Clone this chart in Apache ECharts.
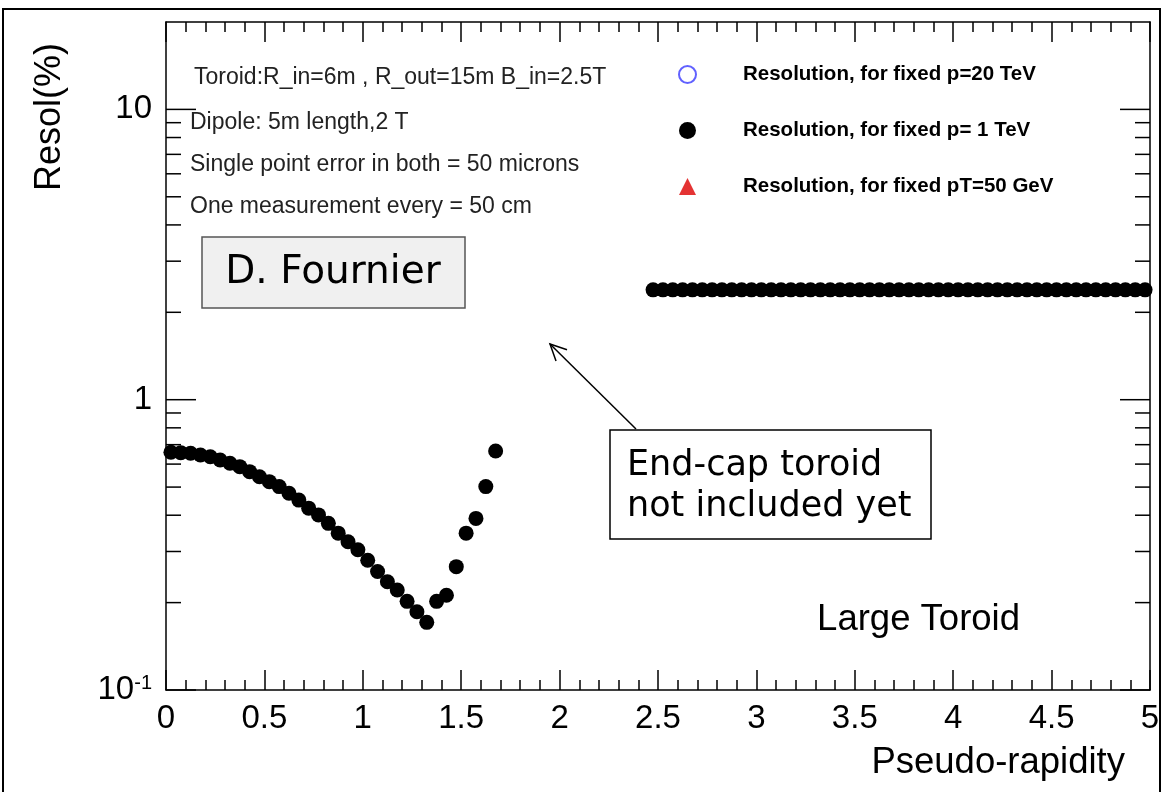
<!DOCTYPE html>
<html>
<head>
<meta charset="utf-8">
<script src="https://cdn.jsdelivr.net/npm/echarts@6.0.0/dist/echarts.min.js"></script>
<style>
  html, body { margin: 0; padding: 0; background: #fff; }
  #chart { width: 1163px; height: 792px; }
</style>
</head>
<body>
<div id="chart"></div>
<script>
// Pseudo-rapidity bins, barrel region (toroid + dipole)
const etaLow = [
  0.025, 0.075, 0.125, 0.175, 0.225, 0.275, 0.325, 0.375, 0.425, 0.475,
  0.525, 0.575, 0.625, 0.675, 0.725, 0.775, 0.825, 0.875, 0.925, 0.975,
  1.025, 1.075, 1.125, 1.175, 1.225, 1.275, 1.325, 1.375, 1.425, 1.475,
  1.525, 1.575, 1.625, 1.675
];
// Momentum resolution (%) at p = 1 TeV in the barrel region
const resolLow = [
  0.659, 0.657, 0.654, 0.645, 0.636, 0.620, 0.604, 0.588, 0.565, 0.543,
  0.522, 0.502, 0.476, 0.451, 0.423, 0.401, 0.375, 0.347, 0.324, 0.304,
  0.280, 0.256, 0.236, 0.221, 0.202, 0.186, 0.171, 0.202, 0.212, 0.266,
  0.347, 0.390, 0.502, 0.666
];
// Pseudo-rapidity bins, forward region
const etaHigh = [
  2.475, 2.525, 2.575, 2.625, 2.675, 2.725, 2.775, 2.825, 2.875, 2.925,
  2.975, 3.025, 3.075, 3.125, 3.175, 3.225, 3.275, 3.325, 3.375, 3.425,
  3.475, 3.525, 3.575, 3.625, 3.675, 3.725, 3.775, 3.825, 3.875, 3.925,
  3.975, 4.025, 4.075, 4.125, 4.175, 4.225, 4.275, 4.325, 4.375, 4.425,
  4.475, 4.525, 4.575, 4.625, 4.675, 4.725, 4.775, 4.825, 4.875, 4.925,
  4.975
];
// Momentum resolution (%) at p = 1 TeV in the forward region
const resolHigh = [
  2.39, 2.39, 2.39, 2.39, 2.39, 2.39, 2.39, 2.39, 2.39, 2.39,
  2.39, 2.39, 2.39, 2.39, 2.39, 2.39, 2.39, 2.39, 2.39, 2.39,
  2.39, 2.39, 2.39, 2.39, 2.39, 2.39, 2.39, 2.39, 2.39, 2.39,
  2.39, 2.39, 2.39, 2.39, 2.39, 2.39, 2.39, 2.39, 2.39, 2.39,
  2.39, 2.39, 2.39, 2.39, 2.39, 2.39, 2.39, 2.39, 2.39, 2.39,
  2.39
];
// Series shown in the legend
const seriesNames = [
  'Resolution, for fixed p=20 TeV',
  'Resolution, for fixed p= 1 TeV',
  'Resolution, for fixed pT=50 GeV'
];
// Log-axis tick values (decades and sub-decade marks)
const yMajorTicks = [0.1, 1, 10];
const yMinorTicks = [0.2, 0.3, 0.4, 0.5, 0.6, 0.7, 0.8, 0.9, 2, 3, 4, 5, 6, 7, 8, 9];
// Notes printed in the plot
const setupNotes = [
  'Toroid:R_in=6m , R_out=15m B_in=2.5T',
  'Dipole: 5m length,2 T',
  'Single point error in both = 50 microns',
  'One measurement every = 50 cm'
];
const authorTag = 'D. Fournier';
const calloutLines = ['End-cap toroid', 'not included yet'];
const magnetTag = 'Large Toroid';
const xTitle = 'Pseudo-rapidity';
const yTitle = 'Resol(%)';

const FONT = '"Liberation Sans", Arial, Helvetica, sans-serif';
const HAND = '"Comic Sans MS", "DejaVu Sans", sans-serif';

const chart = echarts.init(document.getElementById('chart'), null, { renderer: 'canvas' });

const p1TeV = etaLow.map((x, i) => [x, resolLow[i]])
  .concat(etaHigh.map((x, i) => [x, resolHigh[i]]));

const axisLineStyle = { color: '#000', width: 1.5 };

function xAxisDef(position, showLabel) {
  return {
    type: 'value', min: 0, max: 5, interval: 0.5, position: position,
    axisLine: { show: true, onZero: false, lineStyle: axisLineStyle },
    axisTick: { show: true, inside: true, length: 20, lineStyle: axisLineStyle },
    minorTick: { show: true, splitNumber: 5, length: 10, lineStyle: axisLineStyle },
    splitLine: { show: false },
    axisLabel: {
      show: showLabel, fontFamily: FONT, fontSize: 33, color: '#000', margin: 12,
      formatter: v => String(v)
    }
  };
}

function yAxisDef(position, showLabel) {
  return {
    type: 'log', logBase: 10, min: 0.1, max: 20, position: position,
    axisLine: { show: true, onZero: false, lineStyle: axisLineStyle },
    axisTick: { show: false },
    splitLine: { show: false },
    axisLabel: {
      show: showLabel, fontFamily: FONT, fontSize: 33, color: '#000', margin: 14,
      formatter: function (v) {
        if (Math.abs(v - 0.1) < 1e-6) return '{b|10}{s|-1}';
        if (Math.abs(v - 1) < 1e-6) return '1';
        if (Math.abs(v - 10) < 1e-6) return '10';
        return '';
      },
      rich: {
        b: { fontFamily: FONT, fontSize: 33, color: '#000' },
        s: { fontFamily: FONT, fontSize: 20, color: '#000', verticalAlign: 'top', padding: [0, 0, 12, 0] }
      }
    }
  };
}

// tick marks on the log axes, drawn on both the left and the right frame
const yTickData = yMinorTicks.map(v => [0, v, 0]).concat(yMajorTicks.map(v => [0, v, 1]));

function arrowHead(from, to, len, spread) {
  const ang = Math.atan2(from[1] - to[1], from[0] - to[0]);
  return [
    [to[0] + len * Math.cos(ang + spread), to[1] + len * Math.sin(ang + spread)],
    to,
    [to[0] + len * Math.cos(ang - spread), to[1] + len * Math.sin(ang - spread)]
  ];
}
const arrowFrom = [636, 429];
const arrowTo = [550, 344];

const noteFont = '23px ' + FONT;

const option = {
  animation: false,
  backgroundColor: '#fff',
  grid: { left: 166, right: 13, top: 22, bottom: 102, containLabel: false },
  xAxis: [xAxisDef('bottom', true), xAxisDef('top', false)],
  yAxis: [yAxisDef('left', true), yAxisDef('right', false)],
  legend: {
    orient: 'vertical', left: 673, top: 59,
    itemWidth: 17, itemHeight: 17, itemGap: 35,
    selectedMode: false,
    textStyle: { fontFamily: FONT, fontSize: 20.5, fontWeight: 'bold', color: '#000', padding: [0, 0, 0, 42] },
    data: [
      { name: seriesNames[0], icon: 'emptyCircle' },
      { name: seriesNames[1], icon: 'circle' },
      { name: seriesNames[2], icon: 'triangle' }
    ]
  },
  series: [
    {
      name: seriesNames[0], type: 'scatter', data: [],
      symbol: 'emptyCircle', symbolSize: 15,
      itemStyle: { color: '#3a3aff', borderColor: '#3a3aff', borderWidth: 2 }
    },
    {
      name: seriesNames[1], type: 'scatter', data: p1TeV,
      symbol: 'circle', symbolSize: 15, clip: false,
      itemStyle: { color: '#000', opacity: 1 },
      emphasis: { disabled: true }
    },
    {
      name: seriesNames[2], type: 'scatter', data: [],
      symbol: 'triangle', symbolSize: 15,
      itemStyle: { color: '#dd0000' }
    },
    {
      name: 'yticks', type: 'custom', silent: true, clip: false, z: 5,
      data: yTickData,
      encode: { x: 0, y: 1 },
      renderItem: function (params, api) {
        const v = api.value(1);
        const len = api.value(2) === 1 ? 30 : 15;
        const l = api.coord([0, v]);
        const r = api.coord([5, v]);
        const st = { stroke: '#000', lineWidth: 1.5 };
        return {
          type: 'group',
          children: [
            { type: 'line', shape: { x1: l[0], y1: l[1], x2: l[0] + len, y2: l[1] }, style: st },
            { type: 'line', shape: { x1: r[0] - len, y1: r[1], x2: r[0], y2: r[1] }, style: st }
          ]
        };
      }
    }
  ],
  graphic: [
    { type: 'rect', silent: true, shape: { x: 3, y: 9, width: 1157, height: 800 },
      style: { fill: 'none', stroke: '#000', lineWidth: 2 } },
    { type: 'text', x: 194, y: 78, style: { text: setupNotes[0], font: noteFont, fill: '#222', verticalAlign: 'middle' } },
    { type: 'text', x: 190, y: 123, style: { text: setupNotes[1], font: noteFont, fill: '#222', verticalAlign: 'middle' } },
    { type: 'text', x: 190, y: 165, style: { text: setupNotes[2], font: noteFont, fill: '#222', verticalAlign: 'middle' } },
    { type: 'text', x: 190, y: 207, style: { text: setupNotes[3], font: noteFont, fill: '#222', verticalAlign: 'middle' } },
    { type: 'rect', shape: { x: 202, y: 237, width: 263, height: 71 },
      style: { fill: '#f0f0f0', stroke: '#555', lineWidth: 1.5 } },
    { type: 'text', x: 333, y: 273, style: { text: authorTag, font: '39px ' + HAND, fill: '#000', align: 'center', verticalAlign: 'middle' } },
    { type: 'rect', shape: { x: 610, y: 430, width: 321, height: 109 },
      style: { fill: '#fff', stroke: '#000', lineWidth: 1.5 } },
    { type: 'text', x: 627, y: 466, style: { text: calloutLines[0], font: '35px ' + HAND, fill: '#000', verticalAlign: 'middle' } },
    { type: 'text', x: 627, y: 507, style: { text: calloutLines[1], font: '35px ' + HAND, fill: '#000', verticalAlign: 'middle' } },
    { type: 'line', shape: { x1: arrowFrom[0], y1: arrowFrom[1], x2: arrowTo[0], y2: arrowTo[1] },
      style: { stroke: '#000', lineWidth: 1.5 } },
    { type: 'polyline', shape: { points: arrowHead(arrowFrom, arrowTo, 18, 0.45) },
      style: { stroke: '#000', lineWidth: 1.5, fill: 'none' } },
    { type: 'text', x: 1020, y: 620, style: { text: magnetTag, font: '36.5px ' + FONT, fill: '#000', align: 'right', verticalAlign: 'middle' } },
    { type: 'text', x: 1125, y: 763, style: { text: xTitle, font: '36.5px ' + FONT, fill: '#000', align: 'right', verticalAlign: 'middle' } },
    { type: 'text', x: 50, y: 117, rotation: Math.PI / 2,
      style: { text: yTitle, font: '36px ' + FONT, fill: '#000', align: 'center', verticalAlign: 'middle' } }
  ]
};

chart.setOption(option);
</script>
</body>
</html>
